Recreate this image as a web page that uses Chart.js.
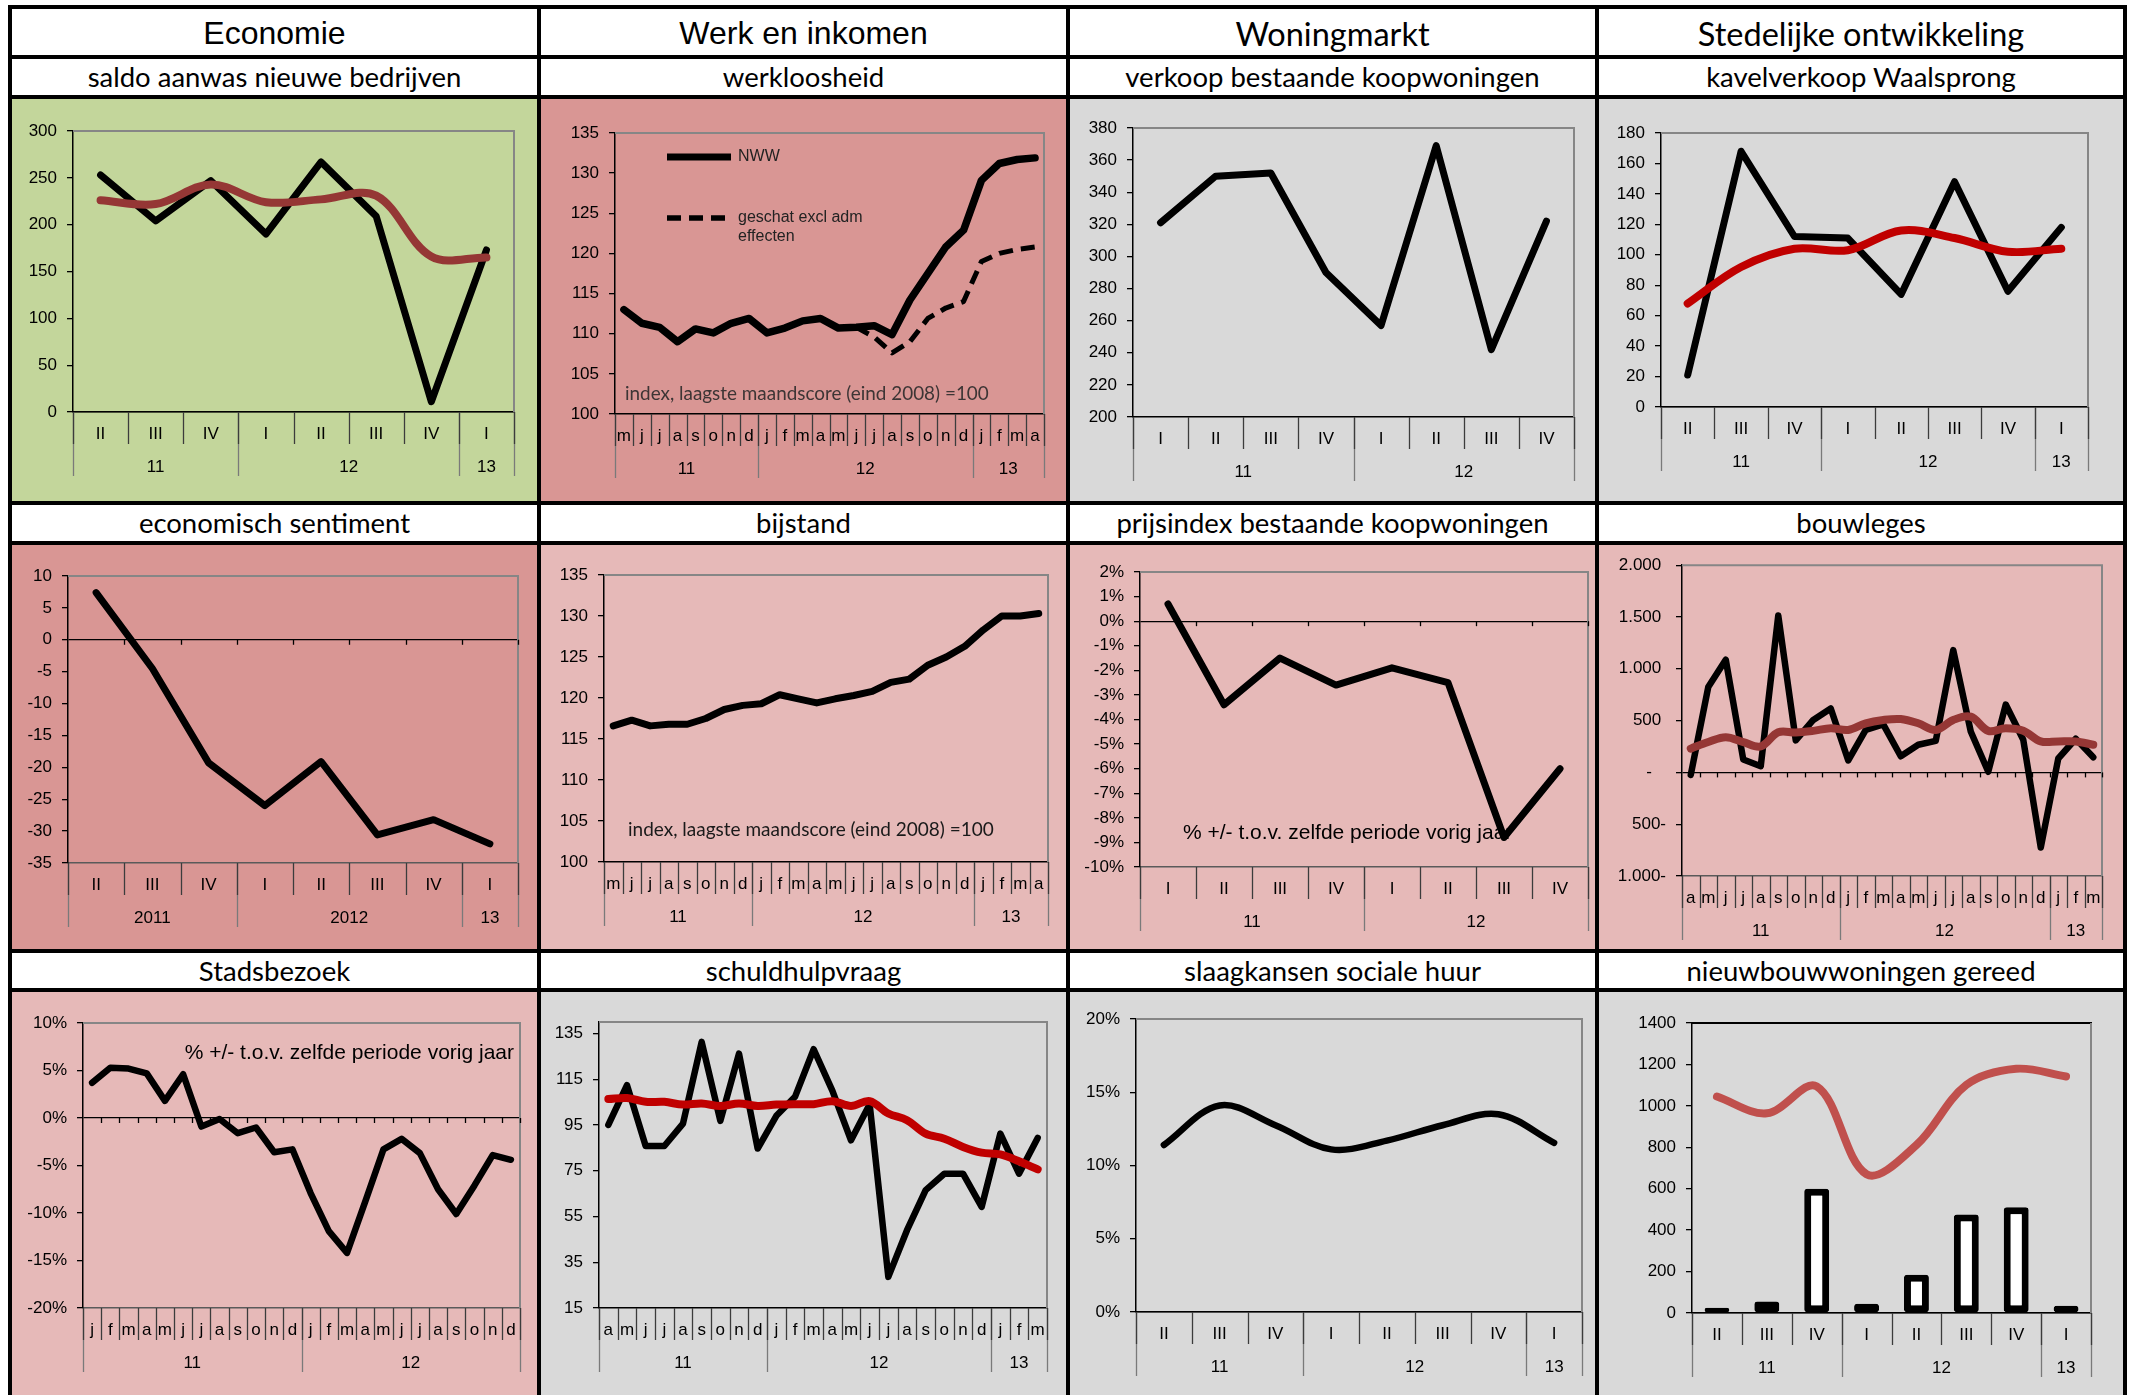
<!DOCTYPE html>
<html lang="nl">
<head>
<meta charset="utf-8">
<title>Stadsmonitor</title>
<script src="https://cdn.jsdelivr.net/npm/chart.js@4.4.1/dist/chart.umd.min.js"></script>
<style>
  html, body { margin: 0; padding: 0; background: #fff; }
  body { position: relative; width: 2143px; height: 1395px; overflow: hidden; }
  .cell { position: absolute; display: flex; align-items: center; justify-content: center; white-space: nowrap; color: #000; box-sizing: border-box; }
  .head { font-family: 'Liberation Sans', Arial, sans-serif; font-size: 32px; padding-top: 3px; }
  .head.cal { font-family: Lato, 'Open Sans', sans-serif; font-size: 32.5px; }
  .sub { font-family: Lato, 'Open Sans', sans-serif; font-size: 27.5px; padding-bottom: 1px; }
  .panel { position: absolute; }
  .panel canvas { position: absolute; left: 0; top: 0; }
  .rule { position: absolute; background: #000; z-index: 5; }
</style>
</head>
<body>
<script>
// ---------- kopteksten ----------
const headers = ['Economie', 'Werk en inkomen', 'Woningmarkt', 'Stedelijke ontwikkeling'];
const headerCalibri = [false, false, true, true];
const subtitles = [
  ['saldo aanwas nieuwe bedrijven', 'werkloosheid', 'verkoop bestaande koopwoningen', 'kavelverkoop Waalsprong'],
  ['economisch sentiment', 'bijstand', 'prijsindex bestaande koopwoningen', 'bouwleges'],
  ['Stadsbezoek', 'schuldhulpvraag', 'slaagkansen sociale huur', 'nieuwbouwwoningen gereed']
];

// ---------- categorieassen ----------
const kwartII11 = ['II', 'III', 'IV', 'I', 'II', 'III', 'IV', 'I'];
const jarenII11 = [['11', 3], ['12', 4], ['13', 1]];
const jarenII11Vol = [['2011', 3], ['2012', 4], ['13', 1]];
const kwartI11 = ['I', 'II', 'III', 'IV', 'I', 'II', 'III', 'IV'];
const jarenI11 = [['11', 4], ['12', 4]];
const mndMei11 = ['m','j','j','a','s','o','n','d','j','f','m','a','m','j','j','a','s','o','n','d','j','f','m','a'];
const jarenMei11 = [['11', 8], ['12', 12], ['13', 4]];
const mndApr11 = ['a','m','j','j','a','s','o','n','d','j','f','m','a','m','j','j','a','s','o','n','d','j','f','m'];
const jarenApr11 = [['11', 9], ['12', 12], ['13', 3]];
const mndJan11 = ['j','f','m','a','m','j','j','a','s','o','n','d','j','f','m','a','m','j','j','a','s','o','n','d'];
const jarenJan11 = [['11', 12], ['12', 12]];

// ---------- reeksen ----------
const saldoAanwas = [253, 204, 247, 190, 267, 209, 11, 173];
const saldoTrend = [226, 222, 243, 224, 227, 231, 166, 165];
const werkloosNWW = [113, 111.3, 110.8, 109.0, 110.6, 110.1, 111.3, 111.9, 110.1, 110.7, 111.6, 111.9,
                     110.7, 110.8, 111.0, 109.9, 114.2, 117.5, 120.8, 122.9, 129.1, 131.2, 131.7, 131.9];
const werkloosExcl = [null, null, null, null, null, null, null, null, null, null, null, null,
                      null, 110.8, 109.6, 107.6, 109.0, 111.9, 113.2, 114.0, 119.0, 120.0, 120.5, 120.8];
const verkoopBestaand = [321, 350, 352, 290, 257, 369, 242, 322];
const kavelVerkoop = [21, 168, 112, 111, 74, 148, 76, 118];
const kavelTrend = [68, 92, 104, 103, 116, 111, 102, 104];
const sentiment = [7.4, -4.5, -19.3, -26.0, -19.1, -30.6, -28.2, -32.0];
const bijstand = [116.6, 117.3, 116.6, 116.8, 116.8, 117.5, 118.6, 119.1, 119.3, 120.4, 119.9, 119.4,
                  119.9, 120.3, 120.8, 121.9, 122.3, 124.0, 125.0, 126.3, 128.3, 130.0, 130.0, 130.3];
const prijsindex = [0.7, -3.4, -1.5, -2.6, -1.9, -2.5, -8.8, -6.0];
const bouwleges = [-25, 824, 1088, 124, 60, 1514, 309, 506, 617, 115, 410, 464,
                   156, 267, 305, 1180, 395, 6, 655, 315, -725, 134, 325, 146];
const bouwlegesTrend = [229, 293, 340, 293, 251, 388, 385, 401, 426, 410, 474, 506,
                        515, 474, 410, 506, 538, 401, 426, 401, 299, 299, 299, 267];
const stadsbezoek = [3.7, 5.3, 5.2, 4.7, 1.8, 4.6, -0.9, -0.1, -1.6, -1.0, -3.6, -3.3,
                     -7.9, -11.9, -14.2, -8.8, -3.3, -2.2, -3.7, -7.5, -10.1, -7.1, -3.9, -4.4];
const schuldhulp = [95, 112.4, 85.8, 85.8, 95.6, 131.3, 96.8, 126.2, 84.7, 99, 107.3, 128.1,
                    110, 88.3, 104, 28.6, 49, 66.5, 73.7, 73.7, 59.2, 91.2, 73.7, 89.3];
const schuldhulpTrend = [106.3, 106.8, 105.1, 105.1, 103.9, 104.4, 103.3, 104.4, 103.3, 103.9, 104.1, 104.1,
                         105.4, 103.3, 105.4, 100, 97.1, 91.2, 89, 85.4, 82.9, 82.1, 79.1, 75.6];
const slaagkansen = [11.4, 14.1, 12.75, 11.1, 11.7, 12.75, 13.5, 11.55];
const nieuwbouwGereed = [25, 55, 600, 45, 185, 475, 510, 35];
const nieuwbouwTrend = [1045, 964, 1094, 670, 811, 1101, 1179, 1142];

// ---------- waarden op de y-assen ----------
const ticksSaldo = [0, 50, 100, 150, 200, 250, 300];
const ticksIndex = [100, 105, 110, 115, 120, 125, 130, 135];
const ticksVerkoop = [200, 220, 240, 260, 280, 300, 320, 340, 360, 380];
const ticksKavel = [0, 20, 40, 60, 80, 100, 120, 140, 160, 180];
const ticksSentiment = [-35, -30, -25, -20, -15, -10, -5, 0, 5, 10];
const ticksPrijs = [-10, -9, -8, -7, -6, -5, -4, -3, -2, -1, 0, 1, 2];
const ticksLeges = [-1000, -500, 0, 500, 1000, 1500, 2000];
const ticksStads = [-20, -15, -10, -5, 0, 5, 10];
const ticksSchuld = [15, 35, 55, 75, 95, 115, 135];
const ticksSlaag = [0, 5, 10, 15, 20];
const ticksNieuwbouw = [0, 200, 400, 600, 800, 1000, 1200, 1400];

// ---------- opmaak ----------
const plain = v => String(v);
const pct = v => v + '%';
const thousands = n => n >= 1000 ? Math.floor(n / 1000) + '.' + String(n % 1000).padStart(3, '0') : String(n);
const accounting = v => v === 0 ? '-   ' : thousands(Math.abs(v)) + (v < 0 ? '-' : ' ');

const X = [10, 539, 1068, 1597, 2125];          // verticale lijnen van de tabel
const Y = [7, 57, 97, 503, 543, 951, 990];      // horizontale lijnen van de tabel
const PANEL_ROWS = [[97, 503], [543, 951], [990, 1397]];
const TICK_FONT = { family: "'Liberation Sans', Arial, sans-serif", size: 17 };
Chart.defaults.font.family = TICK_FONT.family;
Chart.defaults.color = '#000';

// Excel-achtige categorie-as: scheidingsstreepjes, jaartallen, kader, notities en legenda
const excelAxis = {
  id: 'excelAxis',
  beforeDatasetsDraw(chart, _args, o) {
    const { ctx, chartArea: a } = chart;
    const x = chart.scales.x, y = chart.scales.y;
    const n = chart.data.labels.length;
    const seg = (x1, y1, x2, y2) => { ctx.beginPath(); ctx.moveTo(x1, y1); ctx.lineTo(x2, y2); ctx.stroke(); };
    const edge = k => Math.round(x.getPixelForValue(k - 0.5)) + 0.5;
    ctx.save();
    // kader rond het plotvlak
    ctx.lineWidth = 2;
    ctx.strokeStyle = o.frameTop || '#868686';
    seg(a.left, a.top, a.right + 1, a.top);
    ctx.strokeStyle = '#868686';
    seg(a.right, a.top, a.right, a.bottom);
    const base = a.bottom;
    // jaarscheidingen
    ctx.lineWidth = 1.3;
    ctx.strokeStyle = '#7a7a7a';
    let k = 0;
    seg(edge(0), base, edge(0), base + 64);
    o.years.forEach(([, cnt]) => { k += cnt; seg(edge(k), base, edge(k), base + 64); });
    // periodescheidingen
    ctx.strokeStyle = '#3c3c3c';
    for (let i = 0; i <= n; i++) seg(edge(i), base, edge(i), base + 32);
    // streepjes langs de nullijn
    if (y.min < 0) {
      const y0 = y.getPixelForValue(0);
      ctx.strokeStyle = '#000';
      for (let i = 1; i <= n; i++) seg(edge(i), y0, edge(i), y0 + 5);
    }
    // jaartallen
    ctx.fillStyle = '#000';
    ctx.font = `${TICK_FONT.size}px ${TICK_FONT.family}`;
    ctx.textAlign = 'center';
    ctx.textBaseline = 'middle';
    let s = 0;
    o.years.forEach(([lab, cnt]) => { ctx.fillText(lab, x.getPixelForValue(s + (cnt - 1) / 2), base + 55); s += cnt; });
    // notities in het plotvlak
    (o.notes || []).forEach(nt => {
      let size = nt.size;
      if (nt.fit) {
        ctx.font = `20px ${nt.family}`;
        size = 20 * nt.fit / ctx.measureText(nt.text).width;
      }
      ctx.font = `${size}px ${nt.family}`;
      ctx.fillStyle = nt.color;
      ctx.textAlign = nt.align;
      ctx.textBaseline = 'middle';
      const px = nt.align === 'right' ? a.right + nt.dx : a.left + nt.dx;
      const py = nt.fromTop ? a.top + nt.dy : a.bottom + nt.dy;
      ctx.fillText(nt.text, px, py);
    });
    // legenda
    (o.legend || []).forEach(it => {
      const ds = chart.data.datasets[it.index];
      ctx.strokeStyle = ds.borderColor;
      ctx.lineWidth = it.width;
      ctx.lineCap = 'butt';
      ctx.setLineDash(ds.borderDash || []);
      seg(a.left + 52, a.top + it.dy, a.left + it.end, a.top + it.dy);
      ctx.setLineDash([]);
      ctx.fillStyle = '#222';
      ctx.font = `16px ${TICK_FONT.family}`;
      ctx.textAlign = 'left';
      ctx.textBaseline = 'middle';
      ds.label.split('\n').forEach((t, j) => ctx.fillText(t, a.left + 123, a.top + it.dy + j * 19));
    });
    ctx.restore();
  }
};

const defs = [
  { r: 0, c: 0, bg: '#c3d69b', plot: [73, 131, 514, 412], cats: kwartII11, years: jarenII11,
    y: [0, 300, ticksSaldo, plain],
    series: [{ data: saldoTrend, color: '#953735', width: 8, smooth: true, order: 0 },
             { data: saldoAanwas, color: '#000', width: 7, order: 1 }] },
  { r: 0, c: 1, bg: '#d99694', plot: [615, 133, 1044, 414], cats: mndMei11, years: jarenMei11,
    y: [100, 135, ticksIndex, plain],
    series: [{ label: 'NWW', data: werkloosNWW, color: '#000', width: 7.5, order: 0 },
             { label: 'geschat excl adm\neffecten', data: werkloosExcl, color: '#000', width: 5, dash: [14, 8], order: 1 }],
    legend: [{ index: 0, dy: 24, width: 7, end: 116 }, { index: 1, dy: 85, width: 5.5, end: 110 }],
    notes: [{ text: 'index, laagste maandscore (eind 2008) =100', family: "Lato, 'Open Sans', sans-serif", fit: 364,
              color: '#3d3535', align: 'left', dx: 10, dy: -20 }] },
  { r: 0, c: 2, bg: '#d9d9d9', plot: [1133, 128, 1574, 417], cats: kwartI11, years: jarenI11,
    y: [200, 380, ticksVerkoop, plain],
    series: [{ data: verkoopBestaand, color: '#000', width: 7 }] },
  { r: 0, c: 3, bg: '#d9d9d9', plot: [1661, 133, 2088, 407], cats: kwartII11, years: jarenII11,
    y: [0, 180, ticksKavel, plain],
    series: [{ data: kavelTrend, color: '#c00000', width: 8, smooth: true, order: 0 },
             { data: kavelVerkoop, color: '#000', width: 7, order: 1 }] },
  { r: 1, c: 0, bg: '#d99694', plot: [68, 576, 518, 863], cats: kwartII11, years: jarenII11Vol,
    y: [-35, 10, ticksSentiment, plain],
    series: [{ data: sentiment, color: '#000', width: 7 }] },
  { r: 1, c: 1, bg: '#e6b9b8', plot: [604, 575, 1048, 862], cats: mndMei11, years: jarenMei11,
    y: [100, 135, ticksIndex, plain],
    series: [{ data: bijstand, color: '#000', width: 7 }],
    notes: [{ text: 'index, laagste maandscore (eind 2008) =100', family: "Lato, 'Open Sans', sans-serif", fit: 366,
              color: '#1a1a1a', align: 'left', dx: 24, dy: -32 }] },
  { r: 1, c: 2, bg: '#e6b9b8', plot: [1140, 572, 1588, 867], cats: kwartI11, years: jarenI11,
    y: [-10, 2, ticksPrijs, pct],
    series: [{ data: prijsindex, color: '#000', width: 7 }],
    notes: [{ text: '% +/- t.o.v. zelfde periode vorig jaar', family: TICK_FONT.family, size: 21,
              color: '#000', align: 'left', dx: 43, dy: -34 }] },
  { r: 1, c: 3, bg: '#e6b9b8', plot: [1682, 562, 2102, 876], cats: mndApr11, years: jarenApr11,
    y: [-1000, 2000, ticksLeges, accounting],
    series: [{ data: bouwlegesTrend, color: '#953735', width: 8, smooth: true, order: 0 },
             { data: bouwleges, color: '#000', width: 6.5, order: 1 }] },
  { r: 2, c: 0, bg: '#e6b9b8', plot: [83, 1023, 520, 1308], cats: mndJan11, years: jarenJan11,
    y: [-20, 10, ticksStads, pct],
    series: [{ data: stadsbezoek, color: '#000', width: 6.5 }],
    notes: [{ text: '% +/- t.o.v. zelfde periode vorig jaar', family: TICK_FONT.family, size: 21,
              color: '#000', align: 'right', dx: -6, dy: 30, fromTop: true }] },
  { r: 2, c: 1, bg: '#d9d9d9', plot: [599, 1022, 1047, 1308], cats: mndApr11, years: jarenApr11,
    y: [15, 140, ticksSchuld, plain],
    series: [{ data: schuldhulpTrend, color: '#c00000', width: 8, smooth: true, order: 0 },
             { data: schuldhulp, color: '#000', width: 6.5, order: 1 }] },
  { r: 2, c: 2, bg: '#d9d9d9', plot: [1136, 1019, 1582, 1312], cats: kwartII11, years: jarenII11,
    y: [0, 20, ticksSlaag, pct],
    series: [{ data: slaagkansen, color: '#000', width: 6.5, smooth: true }] },
  { r: 2, c: 3, bg: '#d9d9d9', plot: [1692, 1023, 2091, 1313], cats: kwartII11, years: jarenII11,
    y: [0, 1400, ticksNieuwbouw, plain], frameTop: '#000',
    series: [{ data: nieuwbouwTrend, color: '#c0504d', width: 8, smooth: true, order: 0 },
             { data: nieuwbouwGereed, bar: true, order: 1 }] }
];

function dataset(s) {
  if (s.bar) {
    return { type: 'bar', label: s.label || '', data: s.data, order: s.order,
      backgroundColor: '#fff', borderColor: '#000', borderWidth: 7, borderSkipped: false, borderRadius: 3,
      barPercentage: 0.5, categoryPercentage: 1 };
  }
  return { type: 'line', label: s.label || '', data: s.data, order: s.order ?? 0,
    borderColor: s.color, borderWidth: s.width, borderDash: s.dash || [],
    tension: s.smooth ? 0.35 : 0, pointRadius: 0, fill: false, spanGaps: false,
    borderCapStyle: s.dash ? 'butt' : 'round', borderJoinStyle: 'round' };
}

function buildChart(d) {
  const x0 = X[d.c] + 2, x1 = X[d.c + 1] - 2;
  const [pt, pb] = PANEL_ROWS[d.r];
  const y0 = pt + 2, y1 = Math.min(pb - 2, 1395);
  const panel = document.createElement('div');
  panel.className = 'panel';
  Object.assign(panel.style, { left: x0 + 'px', top: y0 + 'px', width: (x1 - x0) + 'px', height: (y1 - y0) + 'px', background: d.bg });
  const cv = document.createElement('canvas');
  cv.width = x1 - x0; cv.height = y1 - y0;
  panel.appendChild(cv);
  document.body.appendChild(panel);
  const [L, T, R, B] = d.plot;
  const YW = L - x0, XH = 72;   // y-as neemt de volle ruimte links van het plotvlak in
  const [ymin, ymax, yticks, yfmt] = d.y;
  new Chart(cv, {
    type: 'line',
    data: { labels: d.cats, datasets: d.series.map(dataset) },
    options: {
      responsive: false, animation: false, events: [],
      layout: { padding: { left: 0, top: T - y0, right: x1 - R, bottom: y1 - B - XH } },
      plugins: {
        legend: { display: false }, tooltip: { enabled: false },
        excelAxis: { years: d.years, notes: d.notes, legend: d.legend, frameTop: d.frameTop }
      },
      scales: {
        x: {
          type: 'category', offset: true,
          grid: { display: false, drawTicks: false },
          border: { display: true, color: ymin < 0 ? '#5a5a5a' : '#000', width: 1.5 },
          ticks: { autoSkip: false, maxRotation: 0, minRotation: 0, padding: 12, color: '#000', font: TICK_FONT },
          afterFit: s => { s.height = XH; }
        },
        y: {
          type: 'linear', min: ymin, max: ymax,
          afterBuildTicks: s => { s.ticks = yticks.map(v => ({ value: v })); },
          ticks: { padding: 10, color: '#000', font: TICK_FONT, callback: v => yfmt(v) },
          grid: { drawOnChartArea: true, color: c => (c.tick && c.tick.value === 0) ? '#000' : 'rgba(0,0,0,0)',
                  tickColor: '#000', tickLength: 6, lineWidth: 1.3 },
          border: { display: true, color: '#000', width: 1.5 },
          afterFit: s => { s.width = YW; }
        }
      }
    },
    plugins: [excelAxis]
  });
}

function cell(cls, text, left, top, width, height) {
  const el = document.createElement('div');
  el.className = 'cell ' + cls;
  Object.assign(el.style, { left: left + 'px', top: top + 'px', width: width + 'px', height: height + 'px' });
  el.textContent = text;
  document.body.appendChild(el);
}

// kopregel en ondertitels
headers.forEach((h, c) => cell('head' + (headerCalibri[c] ? ' cal' : ''), h, X[c] + 2, Y[0] + 2, X[c + 1] - X[c] - 4, Y[1] - Y[0] - 4));
subtitles.forEach((row, r) => row.forEach((t, c) =>
  cell('sub', t, X[c] + 2, Y[1 + 2 * r] + 2, X[c + 1] - X[c] - 4, Y[2 + 2 * r] - Y[1 + 2 * r] - 4)));

defs.forEach(buildChart);

// tabelranden
function rule(left, top, width, height) {
  const el = document.createElement('div');
  el.className = 'rule';
  Object.assign(el.style, { left: left + 'px', top: top + 'px', width: width + 'px', height: height + 'px' });
  document.body.appendChild(el);
}
X.forEach(x => rule(x - 2, Y[0] - 2, 4, 1400));
Y.forEach(y => rule(X[0] - 2, y - 2, X[4] - X[0] + 4, 4));
</script>
</body>
</html>
